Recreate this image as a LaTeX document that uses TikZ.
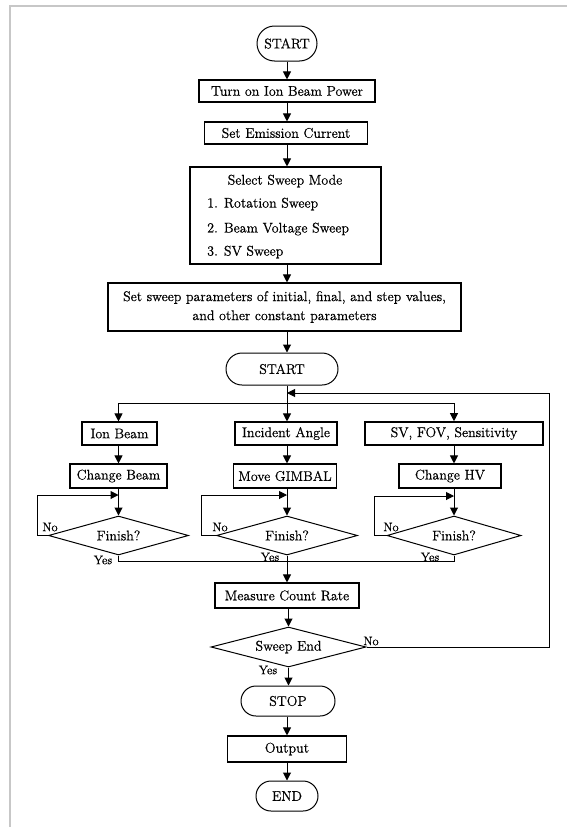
\documentclass[tikz,border=0pt]{standalone}
\usepackage{fontspec}
\setmainfont{Latin Modern Roman}[FakeBold=0.6]
\usetikzlibrary{shapes.geometric,shapes.misc,arrows.meta}
\begin{document}
\begin{tikzpicture}[x=1pt,y=-1pt,
  box/.style={draw,line width=1.1pt,inner sep=0pt,font=\fontsize{14}{17}\selectfont},
  term/.style={draw,line width=1pt,rounded rectangle,inner sep=0pt,font=\fontsize{14}{17}\selectfont},
  dec/.style={draw,diamond,aspect=3.6,line width=1pt,inner sep=0pt,font=\fontsize{14}{17}\selectfont},
  arr/.style={line width=1pt,-{Triangle[length=8pt,width=8pt]}},
  ln/.style={line width=1pt},
  lbl/.style={inner sep=0pt,font=\fontsize{12.5}{14}\selectfont},
  txt/.style={inner sep=0pt,font=\fontsize{14}{17}\selectfont}]
\useasboundingbox (0,0) rectangle (567,827);
\draw[line width=2pt, black!22] (10,827) -- (10,6) -- (567,6);

% main column
\node[term, minimum width=60pt, minimum height=35pt] (start1) at (287,43.5) {START};
\node[box, minimum width=176pt, minimum height=22pt] (turn) at (287,91) {Turn on Ion Beam Power};
\node[box, minimum width=163pt, minimum height=22pt] (emis) at (286,133) {Set Emission Current};
\node[box, minimum width=191pt, minimum height=97pt] (sel) at (285.5,215.5) {};
\node[txt] (selt) at (285,181) {Select Sweep Mode};
\node[txt, anchor=west] (sel1) at (207,204) {1. Rotation Sweep};
\node[txt, anchor=west] (sel2) at (207,229) {2. Beam Voltage Sweep};
\node[txt, anchor=west] (sel3) at (207,252) {3. SV Sweep};
\node[box, minimum width=353pt, minimum height=48pt, align=center, font=\fontsize{14}{19}\selectfont] (par) at (284.5,307) {Set sweep parameters of initial, final, and step values,\\ and other constant parameters};
\node[term, minimum width=112pt, minimum height=32pt] (start2) at (282,369) {START};

\coordinate (ax) at (287,0);
\coordinate (split) at (287,403);
\coordinate (c1) at (118.5,403);
\coordinate (c3) at (454,403);

% three branches
\node[box, minimum width=75pt, minimum height=23pt] (ion) at (119.5,433.5) {Ion Beam};
\node[box, minimum width=102pt, minimum height=23pt] (inc) at (286,433.5) {Incident Angle};
\node[box, line width=1.6pt, minimum width=178pt, minimum height=23pt] (sv) at (454,433.5) {SV, FOV, Sensitivity};
\node[box, minimum width=97pt, minimum height=24pt] (chb) at (118.5,476) {Change Beam};
\node[box, minimum width=103pt, minimum height=24pt] (gim) at (285,476) {Move GIMBAL};
\node[box, minimum width=102pt, minimum height=24pt] (hv) at (450,476) {Change HV};
\node[dec, minimum width=140pt, minimum height=39pt] (d1) at (118.5,535.5) {Finish?};
\node[dec, minimum width=141pt, minimum height=39pt] (d2) at (287,535.5) {Finish?};
\node[dec, minimum width=134pt, minimum height=39pt] (d3) at (454,535.5) {Finish?};

\coordinate (l1) at (37,535.5);  \coordinate (j1) at (118.5,495);
\coordinate (l2) at (201,535.5); \coordinate (j2) at (287,495);
\coordinate (l3) at (374,535.5); \coordinate (j3) at (454,496);
\coordinate (m) at (287,561);

\node[box, minimum width=144pt, minimum height=25pt] (meas) at (287,595.5) {Measure Count Rate};
\node[dec, minimum width=155pt, minimum height=40pt] (se) at (288.5,647) {Sweep End};
\node[term, minimum width=94pt, minimum height=30pt] (stop) at (288,701) {STOP};
\node[box, minimum width=119pt, minimum height=26pt] (out) at (287,749) {Output};
\node[term, minimum width=62pt, minimum height=30pt] (end) at (287,796) {END};

\coordinate (f1) at (549,647);
\coordinate (f2) at (549,393);
\coordinate (fj) at (287,393);

% connectors
\draw[arr] (start1.south -| ax) -- (turn.north -| ax);
\draw[arr] (turn.south -| ax) -- (emis.north -| ax);
\draw[arr] (emis.south -| ax) -- (sel.north -| ax);
\draw[arr] (sel.south -| ax) -- (par.north -| ax);
\draw[arr] (par.south -| ax) -- (start2.north -| ax);
\draw[ln] (start2.south -| ax) -- (split);
\draw[ln] (c1) -- (c3);
\draw[arr] (c1) -- (ion.north -| c1);
\draw[arr] (split) -- (inc.north -| split);
\draw[arr] (c3) -- (sv.north -| c3);
\draw[arr] (ion.south -| c1) -- (chb.north -| c1);
\draw[arr] (inc.south -| split) -- (gim.north -| split);
\draw[arr] (sv.south -| c3) -- (hv.north -| c3);
\draw[arr] (chb.south -| c1) -- (d1.north);
\draw[arr] (gim.south -| split) -- (d2.north);
\draw[arr] (hv.south -| c3) -- (d3.north);
\draw[arr] (d1.west) -- (l1) |- (j1);
\draw[arr] (d2.west) -- (l2) |- (j2);
\draw[arr] (d3.west) -- (l3) |- (j3);
\draw[ln] (d1.south) -- (d1.south |- m) -- (d3.south |- m) -- (d3.south);
\draw[ln] (d2.south) -- (d2.south |- m);
\draw[arr] (m) -- (meas.north -| m);
\draw[arr] (meas.south -| se.north) -- (se.north);
\draw[arr] (se.south) -- (stop.north -| se.south);
\draw[arr] (stop.south -| ax) -- (out.north -| ax);
\draw[arr] (out.south -| ax) -- (end.north -| ax);
\draw[arr] (se.east) -- (f1) -- (f2) -- (fj);

% labels
\node[lbl] (no1) at (50,527) {No};
\node[lbl] (no2) at (220,527) {No};
\node[lbl] (no3) at (391,527) {No};
\node[lbl] (no4) at (371,641) {No};
\node[lbl] (yes1) at (103,560) {Yes};
\node[lbl] (yes2) at (270,557) {Yes};
\node[lbl] (yes3) at (430,557) {Yes};
\node[lbl] (yes4) at (268,670) {Yes};
\end{tikzpicture}
\end{document}
